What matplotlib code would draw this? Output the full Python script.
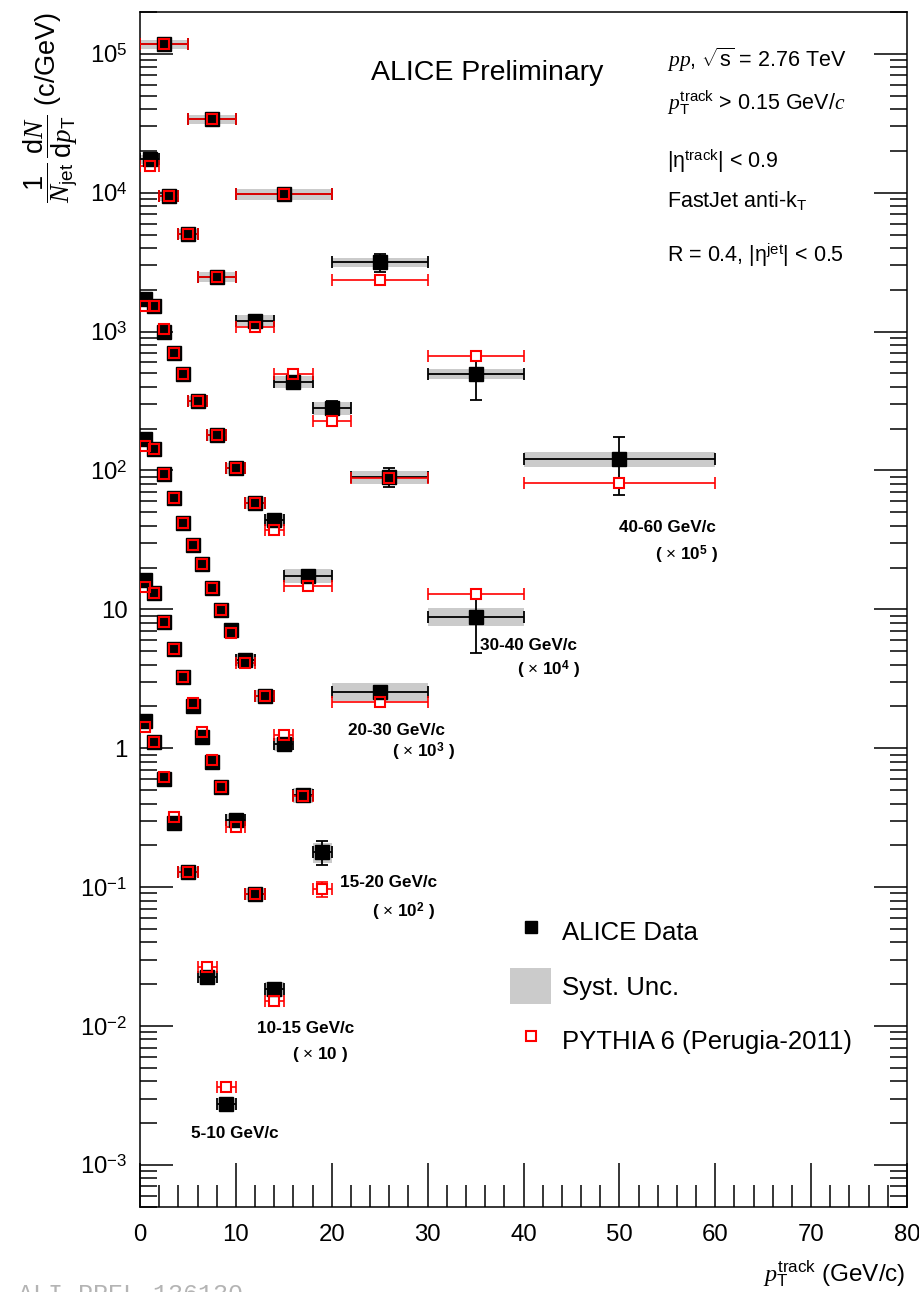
import numpy as np
import matplotlib.pyplot as plt
from matplotlib.lines import Line2D
from matplotlib.patches import Patch
from matplotlib.ticker import MultipleLocator, LogLocator, FixedLocator, NullFormatter

plt.rcParams['font.family'] = ['Liberation Sans', 'DejaVu Sans']
plt.rcParams['mathtext.fontset'] = 'custom'
plt.rcParams['mathtext.rm'] = 'Liberation Sans'
plt.rcParams['mathtext.it'] = 'Liberation Serif:italic'
plt.rcParams['mathtext.bf'] = 'Liberation Sans:bold'
plt.rcParams['mathtext.sf'] = 'Liberation Sans'

# track pT bin edges and spectra (already multiplied by the scale factor)
# errors are relative
edges_5_10 = [0, 1, 2, 3, 4, 6, 8, 10]
data_5_10 = [1.57, 1.11, 0.60, 0.29, 0.129, 0.0226, 0.00275]
stat_5_10 = [0.01, 0.01, 0.01, 0.02, 0.02, 0.05, 0.08]
syst_5_10 = [0.08, 0.08, 0.08, 0.09, 0.09, 0.10, 0.10]
pythia_5_10 = [1.43, 1.11, 0.62, 0.32, 0.129, 0.0266, 0.00365]
perr_5_10 = [0.01, 0.01, 0.01, 0.02, 0.02, 0.04, 0.08]

edges_10_15 = [0, 1, 2, 3, 4, 5, 6, 7, 8, 9, 11, 13, 15]
data_10_15 = [16.3, 13.1, 8.1, 5.2, 3.25, 2.02, 1.21, 0.79, 0.524, 0.305, 0.0893, 0.0184]
stat_10_15 = [0.01, 0.01, 0.01, 0.01, 0.02, 0.02, 0.02, 0.03, 0.03, 0.04, 0.06, 0.10]
syst_10_15 = [0.08, 0.08, 0.08, 0.08, 0.08, 0.09, 0.09, 0.09, 0.10, 0.10, 0.10, 0.12]
pythia_10_15 = [14.5, 13.1, 8.1, 5.2, 3.25, 2.12, 1.30, 0.82, 0.524, 0.273, 0.0893, 0.0152]
perr_10_15 = [0.01, 0.01, 0.01, 0.01, 0.01, 0.02, 0.02, 0.02, 0.03, 0.03, 0.05, 0.08]

edges_15_20 = [0, 1, 2, 3, 4, 5, 6, 7, 8, 9, 10, 12, 14, 16, 18, 20]
data_15_20 = [168, 142, 94.4, 63, 42.1, 29.1, 21.2, 14.2, 9.9, 7.1, 4.32, 2.38, 1.07, 0.461, 0.179]
stat_15_20 = [0.01, 0.01, 0.01, 0.01, 0.01, 0.02, 0.02, 0.02, 0.03, 0.03, 0.03, 0.05, 0.07, 0.10, 0.20]
syst_15_20 = [0.08, 0.08, 0.08, 0.08, 0.08, 0.08, 0.09, 0.09, 0.09, 0.10, 0.10, 0.10, 0.11, 0.12, 0.17]
pythia_15_20 = [151, 142, 94.4, 63, 42.1, 29.1, 21.2, 14.2, 9.9, 6.8, 4.1, 2.38, 1.25, 0.455, 0.097]
perr_15_20 = [0.01, 0.01, 0.01, 0.01, 0.01, 0.01, 0.02, 0.02, 0.02, 0.02, 0.03, 0.04, 0.05, 0.07, 0.12]

edges_20_30 = [0, 1, 2, 3, 4, 5, 7, 9, 11, 13, 15, 20, 30]
data_20_30 = [1710, 1530, 990, 700, 495, 318, 180, 104, 58.6, 44.0, 17.5, 2.56]
stat_20_30 = [0.01, 0.01, 0.01, 0.01, 0.01, 0.02, 0.02, 0.03, 0.04, 0.05, 0.06, 0.10]
syst_20_30 = [0.08, 0.08, 0.08, 0.08, 0.08, 0.08, 0.09, 0.09, 0.10, 0.10, 0.11, 0.15]
pythia_20_30 = [1530, 1530, 1040, 700, 495, 318, 180, 104, 58.6, 37.3, 14.8, 2.17]
perr_20_30 = [0.01, 0.01, 0.01, 0.01, 0.01, 0.01, 0.02, 0.02, 0.03, 0.03, 0.04, 0.06]

edges_30_40 = [0, 2, 4, 6, 10, 14, 18, 22, 30, 40]
data_30_40 = [17400, 9500, 5040, 2480, 1200, 436, 281, 90, 8.87]
stat_30_40 = [0.01, 0.01, 0.02, 0.02, 0.03, 0.05, 0.12, 0.15, 0.45]
syst_30_40 = [0.08, 0.08, 0.08, 0.08, 0.09, 0.10, 0.10, 0.11, 0.15]
pythia_30_40 = [15600, 9500, 5040, 2480, 1080, 495, 227, 88, 12.8]
perr_30_40 = [0.01, 0.01, 0.01, 0.01, 0.02, 0.03, 0.04, 0.05, 0.08]

edges_40_60 = [0, 5, 10, 20, 30, 40, 60]
data_40_60 = [117000, 33800, 9800, 3160, 495, 121]
stat_40_60 = [0.02, 0.03, 0.04, 0.15, 0.35, 0.45]
syst_40_60 = [0.08, 0.08, 0.09, 0.08, 0.08, 0.12]
pythia_40_60 = [117000, 33800, 9800, 2370, 667, 81]
perr_40_60 = [0.01, 0.02, 0.02, 0.03, 0.05, 0.08]

ytick_values = [1e-3, 1e-2, 1e-1, 1, 10, 1e2, 1e3, 1e4, 1e5]
ytick_labels = [r'$10^{-3}$', r'$10^{-2}$', r'$10^{-1}$', '1', '10',
                r'$10^{2}$', r'$10^{3}$', r'$10^{4}$', r'$10^{5}$']

W, H = 919, 1292


def px(x, y):
    # pixel position -> figure fraction
    return x / W, 1 - y / H


fig = plt.figure(figsize=(W / 100, H / 100), dpi=100)
ax = fig.add_axes([140 / W, 1 - 1206.7 / H, (907 - 140) / W, (1206.7 - 12) / H])
ax.set_yscale('log')


def draw_series(edges, data, stat, syst, pythia, perr):
    lo = np.array(edges[:-1], dtype=float)
    hi = np.array(edges[1:], dtype=float)
    x = (lo + hi) / 2
    hw = (hi - lo) / 2
    y = np.array(data)
    yp = np.array(pythia)
    sy = np.array(syst)
    ax.bar(x, 2 * y * sy, bottom=y * (1 - sy), width=hi - lo,
           color='#cbcbcb', linewidth=0, zorder=1)
    ax.errorbar(x, y, xerr=hw, yerr=y * np.array(stat), fmt='none', ecolor='black',
                elinewidth=1.3, capsize=4, capthick=1.3, zorder=2)
    ax.errorbar(x, yp, xerr=hw, yerr=yp * np.array(perr), fmt='none', ecolor='red',
                elinewidth=1.2, capsize=4, capthick=1.2, zorder=3)
    # open red squares keep their inside clear of the error lines,
    # the black data marker still shows through where they overlap
    ax.plot(x, yp, 's', ms=7.5, mfc='white', mec='none', zorder=4)
    ax.plot(x, y, 's', ms=9.5, color='black', zorder=5)
    ax.plot(x, yp, 's', ms=7.5, mfc='none', mec='red', mew=1.5, zorder=6)


draw_series(edges_5_10, data_5_10, stat_5_10, syst_5_10, pythia_5_10, perr_5_10)
draw_series(edges_10_15, data_10_15, stat_10_15, syst_10_15, pythia_10_15, perr_10_15)
draw_series(edges_15_20, data_15_20, stat_15_20, syst_15_20, pythia_15_20, perr_15_20)
draw_series(edges_20_30, data_20_30, stat_20_30, syst_20_30, pythia_20_30, perr_20_30)
draw_series(edges_30_40, data_30_40, stat_30_40, syst_30_40, pythia_30_40, perr_30_40)
draw_series(edges_40_60, data_40_60, stat_40_60, syst_40_60, pythia_40_60, perr_40_60)

ax.set_xlim(0, 80)
ax.set_ylim(5e-4, 2e5)
ax.xaxis.set_major_locator(MultipleLocator(10))
ax.xaxis.set_minor_locator(MultipleLocator(2))
ax.yaxis.set_major_locator(FixedLocator(ytick_values))
ax.set_yticks(ytick_values, ytick_labels)
ax.yaxis.set_minor_locator(LogLocator(base=10, subs=np.arange(2, 10)))
ax.yaxis.set_minor_formatter(NullFormatter())
ax.tick_params(axis='x', which='major', direction='in', length=31.5, width=1.1,
               labelsize=17.3, pad=12.5, top=False)
ax.tick_params(axis='x', which='minor', direction='in', length=15.8, width=1.1, top=False)
ax.tick_params(axis='y', which='major', direction='in', length=24, width=1.1,
               labelsize=17.3, pad=9, right=True)
ax.tick_params(axis='y', which='minor', direction='in', length=12, width=1.1, right=True)
for s in ax.spines.values():
    s.set_linewidth(1.1)

# axis titles
fig.text(*px(51, 12), r'$\dfrac{1}{N_{\rm jet}}\,\dfrac{{\rm d}N}{{\rm d}p_{\rm T}}$ (c/GeV)',
         rotation=90, ha='center', va='top', fontsize=19.5)
fig.text(*px(905, 1282), r'$p_{\rm T}^{\rm track}$ (GeV/c)', ha='right', va='baseline',
         fontsize=17.5)

fig.text(*px(371, 80), 'ALICE Preliminary', fontsize=20.5, va='baseline')

info = [(67, r'$pp$, $\sqrt{\rm s}$ = 2.76 TeV'),
        (110, r'$p_{\rm T}^{\rm track}$ > 0.15 GeV/$c$'),
        (168, r'|$\mathrm{\eta}^{\rm track}$| < 0.9'),
        (207, r'FastJet anti-k$_{\rm T}$'),
        (262, r'R = 0.4, |$\mathrm{\eta}^{\rm jet}$| < 0.5')]
for yb, t in info:
    fig.text(*px(667, yb), t, fontsize=15.5, va='baseline')

# jet pT bin labels with scale factors
bold = dict(fontsize=12.3, fontweight='bold', va='baseline')
fig.text(*px(619, 532), '40-60 GeV/c', **bold)
fig.text(*px(655, 560), r'( $\times$ $\mathbf{10}^{\mathbf{5}}$ )', **bold)
fig.text(*px(480, 650), '30-40 GeV/c', **bold)
fig.text(*px(517, 675), r'( $\times$ $\mathbf{10}^{\mathbf{4}}$ )', **bold)
fig.text(*px(348, 735), '20-30 GeV/c', **bold)
fig.text(*px(392, 757), r'( $\times$ $\mathbf{10}^{\mathbf{3}}$ )', **bold)
fig.text(*px(340, 887), '15-20 GeV/c', **bold)
fig.text(*px(372, 917), r'( $\times$ $\mathbf{10}^{\mathbf{2}}$ )', **bold)
fig.text(*px(257, 1033), '10-15 GeV/c', **bold)
fig.text(*px(292, 1059), r'( $\times$ $\mathbf{10}$ )', **bold)
fig.text(*px(191, 1138), '5-10 GeV/c', **bold)

handles = [Line2D([], [], ls='none', marker='s', color='black', ms=9),
           Patch(facecolor='#cbcbcb', edgecolor='none'),
           Line2D([], [], ls='none', marker='s', mfc='none', mec='red', mew=1.5, ms=7)]
ax.legend(handles, ['ALICE Data', 'Syst. Unc.', 'PYTHIA 6 (Perugia-2011)'],
          loc='upper left', bbox_to_anchor=px(510, 914), bbox_transform=fig.transFigure,
          frameon=False, fontsize=18.5, handlelength=1.6, handleheight=1.78,
          handletextpad=0.42, labelspacing=0.71, borderpad=0, borderaxespad=0)

fig.text(*px(18, 1283), 'ALI-PREL-136130', family='Liberation Mono', color='#b4b4b4',
         fontsize=18, va='top')

fig.savefig('out.png', dpi=100)
